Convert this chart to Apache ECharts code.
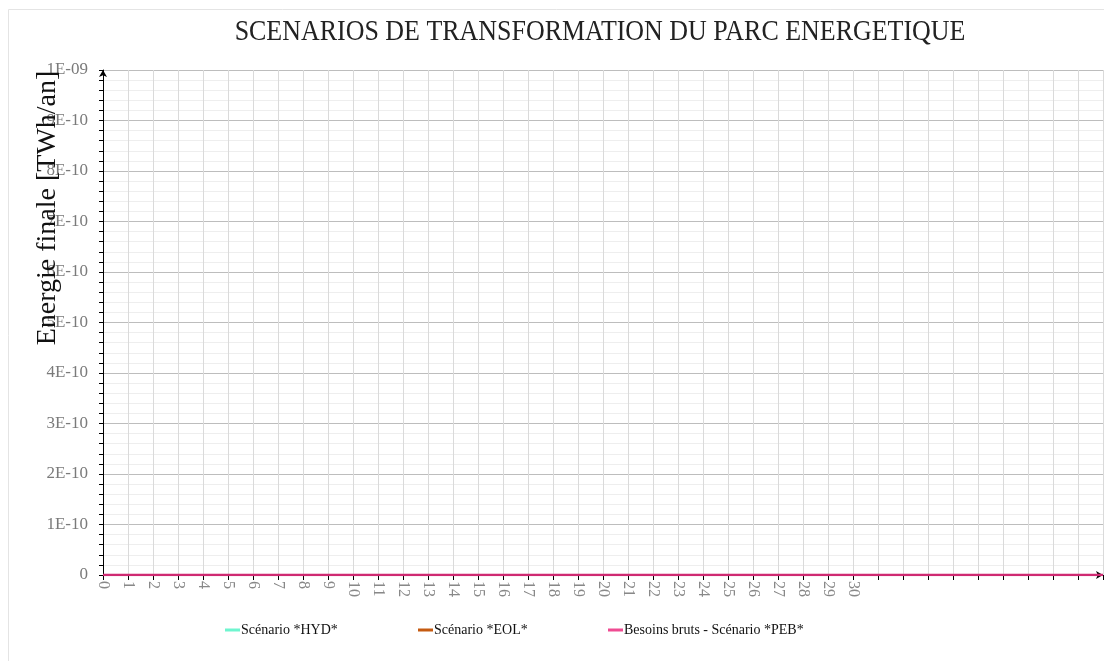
<!DOCTYPE html>
<html>
<head>
<meta charset="utf-8">
<script src="https://cdn.jsdelivr.net/npm/echarts@6/dist/echarts.min.js"></script>
<style>
  html, body { margin: 0; padding: 0; background: #fff; }
  #chart { width: 1104px; height: 661px; }
</style>
</head>
<body>
<div id="chart"></div>
<script>
// x categories (years 0..30, then empty slots up to 40)
const years = ['0','1','2','3','4','5','6','7','8','9','10','11','12','13','14','15','16','17','18','19','20',
  '21','22','23','24','25','26','27','28','29','30','','','','','','','','','',''];
const yTickLabels = ['0','1E-10','2E-10','3E-10','4E-10','5E-10','6E-10','7E-10','8E-10','9E-10','1E-09'];

const hydValues = [0,0,0,0,0,0,0,0,0,0,0,0,0,0,0,0,0,0,0,0,0,0,0,0,0,0,0,0,0,0,0,0,0,0,0,0,0,0,0,0,0];
const eolValues = [0,0,0,0,0,0,0,0,0,0,0,0,0,0,0,0,0,0,0,0,0,0,0,0,0,0,0,0,0,0,0,0,0,0,0,0,0,0,0,0,0];
const pebValues = [0,0,0,0,0,0,0,0,0,0,0,0,0,0,0,0,0,0,0,0,0,0,0,0,0,0,0,0,0,0,0,0,0,0,0,0,0,0,0,0,0];

const serif = '"Liberation Serif", "DejaVu Serif", serif';

let option = {
  animation: false,
  backgroundColor: '#fff',
  grid: { left: 103, right: 1, top: 70, bottom: 86 },
  graphic: [
    {
      type: 'rect', z: -1, silent: true,
      shape: { x: 8.5, y: 9.5, width: 1200, height: 800 },
      style: { fill: 'none', stroke: '#e4e4e4', lineWidth: 1 }
    },
    {
      type: 'text', x: 600, y: 32, scaleX: 0.865,
      style: {
        text: 'SCENARIOS DE TRANSFORMATION DU PARC ENERGETIQUE',
        font: '30px ' + serif, fill: '#222',
        align: 'center', verticalAlign: 'middle'
      }
    },
    {
      type: 'text', x: 48, y: 208, rotation: Math.PI / 2, z: 100,
      style: {
        text: 'Energie finale [TWh/an]',
        font: '28px ' + serif, fill: '#111',
        align: 'center', verticalAlign: 'middle'
      }
    }
  ],
  legend: [
    { name: 'Scénario *HYD*', left: 220 },
    { name: 'Scénario *EOL*', left: 413 },
    { name: 'Besoins bruts - Scénario *PEB*', left: 603 }
  ].map(l => ({
    data: [l.name], left: l.left, top: 618,
    icon: 'rect', itemWidth: 15, itemHeight: 3,
    textStyle: { fontFamily: serif, fontSize: 14, color: '#111', padding: [0, 0, 0, -4] }
  })),
  xAxis: {
    type: 'category',
    data: years,
    boundaryGap: false,
    axisLine: { lineStyle: { color: '#000', width: 1 }, symbol: ['none', 'arrow'], symbolSize: [6, 7] },
    axisTick: { show: true, length: 5, lineStyle: { color: '#000' }, interval: 0 },
    axisLabel: { rotate: -90, interval: 0, margin: 6, color: '#888', fontFamily: serif, fontSize: 16 },
    splitLine: { show: true, interval: 0, lineStyle: { color: '#dadada', width: 1 } }
  },
  yAxis: {
    type: 'value',
    min: 0, max: 1e-9, interval: 1e-10,
    axisLine: { show: true, lineStyle: { color: '#000', width: 1 }, symbol: ['none', 'arrow'], symbolSize: [6, 7] },
    axisTick: { show: true, length: 4, lineStyle: { color: '#000' } },
    minorTick: { show: true, splitNumber: 5, length: 4, lineStyle: { color: '#000' } },
    axisLabel: {
      margin: 15, color: '#7a7a7a', fontFamily: serif, fontSize: 17,
      formatter: v => yTickLabels[Math.round(v / 1e-10)]
    },
    splitLine: { show: true, lineStyle: { color: '#bdbdbd', width: 1 } },
    minorSplitLine: { show: true, lineStyle: { color: '#eeeeee', width: 1 } }
  },
  series: [
    { name: 'Scénario *HYD*', type: 'line', data: hydValues, showSymbol: false,
      lineStyle: { color: '#6ff5cf', width: 2 }, itemStyle: { color: '#6ff5cf' } },
    { name: 'Scénario *EOL*', type: 'line', data: eolValues, showSymbol: false,
      lineStyle: { color: '#c55a11', width: 2 }, itemStyle: { color: '#c55a11' } },
    { name: 'Besoins bruts - Scénario *PEB*', type: 'line', data: pebValues, showSymbol: false,
      lineStyle: { color: '#cf2a72', width: 2.5 }, itemStyle: { color: '#ef4b92' } }
  ]
};

let myChart = echarts.init(document.getElementById('chart'));
myChart.setOption(option);
window.addEventListener('resize', function () {
  myChart.resize()
})
</script>
</body>
</html>
